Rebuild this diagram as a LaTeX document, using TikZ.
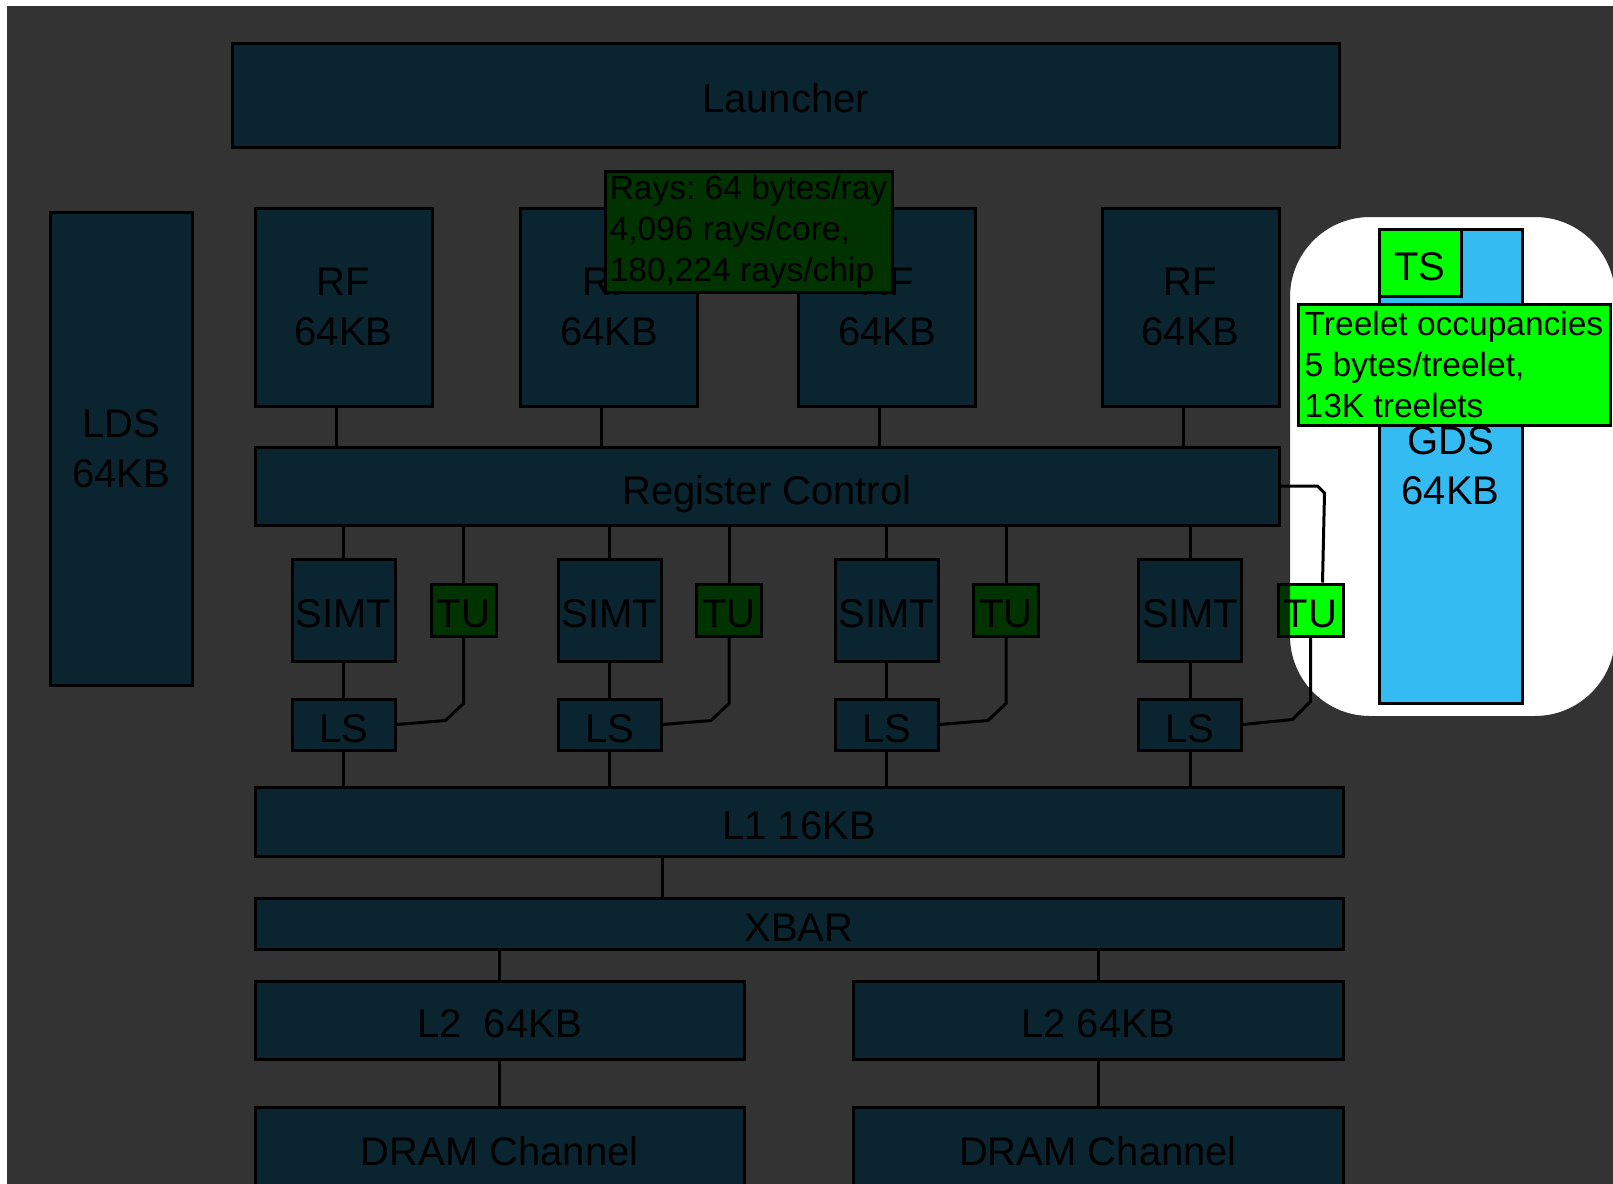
\documentclass[tikz,border=0pt]{standalone}
\usepackage{fontspec}
\setmainfont{Liberation Sans}
\definecolor{unitblue}{RGB}{52,188,242}
\definecolor{hotgreen}{RGB}{0,255,0}

\begin{document}
\begin{tikzpicture}[
    x=1pt, y=-1pt,
    unit/.style={draw, line width=3pt, fill=unitblue, inner sep=0pt,
      align=center, font=\fontsize{40}{50}\selectfont,
      execute at begin node=\rule{0pt}{36pt}},
    tall/.style={unit, execute at begin node=\rule{0pt}{42pt}},
    rf/.style={tall, minimum width=177pt, minimum height=198pt},
    simt/.style={unit, minimum width=103pt, minimum height=102pt},
    tu/.style={unit, fill=hotgreen, minimum width=65pt, minimum height=52pt},
    ls/.style={unit, minimum width=103pt, minimum height=51pt},
    bus/.style={unit, minimum width=1088pt},
    note/.style={draw, line width=3pt, fill=hotgreen, inner sep=4pt,
      align=left, font=\fontsize{33.5}{41}\selectfont\frenchspacing},
    wire/.style={line width=3pt}
  ]
  \useasboundingbox (0,0) rectangle (1613,1183);
  \fill[white] (0,0) rectangle (1613,1183);

  \node[unit, minimum width=1107pt, minimum height=104pt] (launch) at (785.5,95) {Launcher};
  \node[tall, minimum width=142pt, minimum height=473pt] (lds) at (121,449) {LDS\\64KB};

  \node[rf] (rf1) at (343.5,307) {RF\\64KB};
  \node[rf] (rf2) at (609,307) {RF\\64KB};
  \node[rf] (rf3) at (887,307) {RF\\64KB};
  \node[rf] (rf4) at (1190.5,307) {RF\\64KB};
  \node[note, minimum width=287pt, minimum height=121pt] (rays) at (748.5,232)
    {Rays: 64 bytes/ray\\4,096 rays/core,\\180,224 rays/chip};

  \node[unit, text depth=0pt, minimum width=1024pt, minimum height=78pt] (regctrl) at (767,486) {Register Control};

  \begin{scope}
    \node[simt] (simt1) at (343.5,610) {SIMT};
    \node[simt] (simt2) at (609.5,610) {SIMT};
    \node[simt] (simt3) at (886.5,610) {SIMT};
    \node[simt] (simt4) at (1190,610) {SIMT};
    \node[tu] (tu1) at (463.5,610) {TU};
    \node[tu] (tu2) at (729,610) {TU};
    \node[tu] (tu3) at (1006,610) {TU};
    \node[tu] (tu4) at (1310.5,610) {TU};
    \node[ls] (ls1) at (343.5,724.5) {LS};
    \node[ls] (ls2) at (609.5,724.5) {LS};
    \node[ls] (ls3) at (886.5,724.5) {LS};
    \node[ls] (ls4) at (1190,724.5) {LS};
  \end{scope}

  \node[bus, minimum height=69pt] (l1) at (799,821.5) {L1 16KB};
  \node[bus, minimum height=51pt] (xbar) at (799,923.5) {XBAR};
  \node[unit, minimum width=489pt, minimum height=78pt] (l2a) at (499.5,1020) {L2\ \ 64KB};
  \node[unit, minimum width=490pt, minimum height=78pt] (l2b) at (1098,1020) {L2 64KB};
  \node[unit, minimum width=489pt, minimum height=82pt] (drama) at (499.5,1148) {DRAM Channel};
  \node[unit, minimum width=490pt, minimum height=82pt] (dramb) at (1098,1148) {DRAM Channel};

  \node[tall, minimum width=143pt, minimum height=474pt] (gds) at (1450.5,466) {GDS\\64KB};
  \node[unit, fill=hotgreen, minimum width=82pt, minimum height=67pt] (ts) at (1420,262.5) {TS};
  \node[note, minimum width=312pt, minimum height=121pt] (treelet) at (1454,364.5)
    {Treelet occupancies\\5 bytes/treelet,\\13K treelets};

  % register files
  \draw[wire] ([xshift=-7.5]rf1.south) -- ([xshift=-7.5]rf1.south |- regctrl.north);
  \draw[wire] ([xshift=-7.5]rf2.south) -- ([xshift=-7.5]rf2.south |- regctrl.north);
  \draw[wire] ([xshift=-7.5]rf3.south) -- ([xshift=-7.5]rf3.south |- regctrl.north);
  \draw[wire] ([xshift=-7.5]rf4.south) -- ([xshift=-7.5]rf4.south |- regctrl.north);

  % lanes
  \draw[wire] (simt1.north |- regctrl.south) -- (simt1.north) (simt1.south) -- (ls1.north)
    (ls1.south) -- (ls1.south |- l1.north);
  \draw[wire] (simt2.north |- regctrl.south) -- (simt2.north) (simt2.south) -- (ls2.north)
    (ls2.south) -- (ls2.south |- l1.north);
  \draw[wire] (simt3.north |- regctrl.south) -- (simt3.north) (simt3.south) -- (ls3.north)
    (ls3.south) -- (ls3.south |- l1.north);
  \draw[wire] (simt4.north |- regctrl.south) -- (simt4.north) (simt4.south) -- (ls4.north)
    (ls4.south) -- (ls4.south |- l1.north);

  \draw[wire] (tu1.north |- regctrl.south) -- (tu1.north);
  \draw[wire] (tu2.north |- regctrl.south) -- (tu2.north);
  \draw[wire] (tu3.north |- regctrl.south) -- (tu3.north);
  \draw[wire] (regctrl.east) -- ++(37,0) -- ++(7,7) -- ([xshift=12]tu4.north);
  \draw[wire] (tu1.south) -- ++(0,66) -- ++(-18,17) -- (ls1.east);
  \draw[wire] (tu2.south) -- ++(0,66) -- ++(-18,17) -- (ls2.east);
  \draw[wire] (tu3.south) -- ++(0,66) -- ++(-18,17) -- (ls3.east);
  \draw[wire] (tu4.south) -- ++(0,64) -- ++(-18,18) -- (ls4.east);

  % memory
  \draw[wire] ([xshift=-137]l1.south) -- ([xshift=-137]l1.south |- xbar.north);
  \draw[wire] (l2a.north |- xbar.south) -- (l2a.north);
  \draw[wire] (l2b.north |- xbar.south) -- (l2b.north);
  \draw[wire] (l2a.south) -- (drama.north);
  \draw[wire] (l2b.south) -- (dramb.north);

  % dimming, with the TreeletSet corner left bright
  \fill[black, fill opacity=0.8, even odd rule] (7,6) rectangle (1620,1195)
    [rounded corners=80pt] (1290,217) rectangle (1615,716);
\end{tikzpicture}
\end{document}
